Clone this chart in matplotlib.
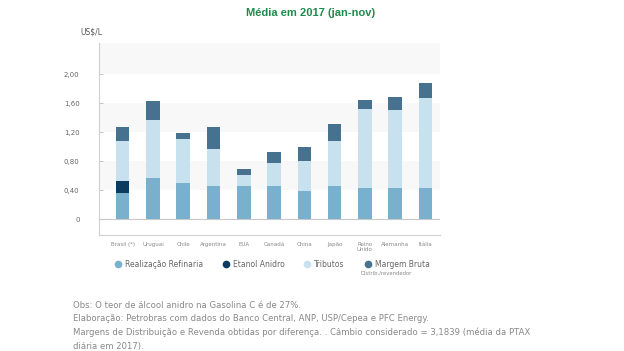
import matplotlib.pyplot as plt
from matplotlib.lines import Line2D
import numpy as np

# dados (US$/L, média jan-nov 2017)
paises = ['Brasil (*)', 'Uruguai', 'Chile', 'Argentina', 'EUA', 'Canadá',
          'China', 'Japão', 'Reino\nUnido', 'Alemanha', 'Itália']
realizacao = [0.36, 0.57, 0.50, 0.455, 0.455, 0.455, 0.385, 0.455, 0.43, 0.425, 0.43]
etanol = [0.17, 0, 0, 0, 0, 0, 0, 0, 0, 0, 0]
tributos = [0.55, 0.80, 0.61, 0.51, 0.155, 0.325, 0.415, 0.62, 1.095, 1.085, 1.24]
margem = [0.19, 0.26, 0.08, 0.315, 0.09, 0.15, 0.20, 0.235, 0.12, 0.18, 0.21]
yticks = [0, 0.4, 0.8, 1.2, 1.6, 2.0]
ytick_labels = ['0', '0,40', '0,80', '1,20', '1,60', '2,00']

cores = ['#78b0ce', '#0b3b5e', '#c8e1ee', '#46718f']
nomes = ['Realização Refinaria', 'Etanol Anidro', 'Tributos', 'Margem Bruta']

fig = plt.figure(figsize=(6.24, 3.51), dpi=100)
ax = fig.add_axes([0.1587, 0.3305, 0.5465, 0.547])

x = np.arange(len(paises))
base = np.zeros(len(paises))
for serie, cor in zip([realizacao, etanol, tributos, margem], cores):
    ax.bar(x, serie, bottom=base, width=0.45, color=cor, zorder=3)
    base = base + np.array(serie)

# faixas de fundo
for y0, y1 in [(0.4, 0.8), (1.2, 1.6), (2.0, 2.5)]:
    ax.axhspan(y0, y1, color='#f8f8f8', zorder=0, lw=0)
ax.axhline(0, color='#c8c8c8', lw=0.8, zorder=2)

ax.set_xlim(-0.78, 10.48)
ax.set_ylim(-0.2166, 2.432)
ax.set_yticks(yticks)
ax.set_yticklabels(ytick_labels, fontsize=5, color='#666666')
ax.tick_params(axis='y', direction='in', length=3, width=0.6, color='#bbbbbb', pad=14)
ax.set_xticks(x)
ax.set_xticklabels(paises, fontsize=4, color='#888888', linespacing=0.9, va='top')
ax.tick_params(axis='x', length=0, pad=5)
for s in ['top', 'right']:
    ax.spines[s].set_visible(False)
for s in ['left', 'bottom']:
    ax.spines[s].set_color('#d0d0d0')
    ax.spines[s].set_linewidth(0.8)

fig.text(0.497, 0.962, 'Média em 2017 (jan-nov)', ha='center', va='center',
         fontsize=8, fontweight='bold', color='#1f8a4c',
         family=['Liberation Sans Narrow', 'Liberation Sans', 'DejaVu Sans'])
fig.text(0.129, 0.909, 'US$/L', ha='left', va='center', fontsize=5.5, color='#555555')

handles = [Line2D([], [], marker='o', ls='', markersize=4.5, markerfacecolor=c,
                  markeredgecolor=c) for c in cores]
fig.legend(handles, nomes, loc='center left', bbox_to_anchor=(0.178, 0.246),
           ncol=4, frameon=False, fontsize=5.5, labelcolor='#666666',
           handletextpad=0.5, columnspacing=2.6, handlelength=0.8, borderpad=0)
fig.text(0.578, 0.223, 'Distrib./revendedor', ha='left', va='center',
         fontsize=3.8, color='#888888')

notas = ('Obs: O teor de álcool anidro na Gasolina C é de 27%.\n'
         'Elaboração: Petrobras com dados do Banco Central, ANP, USP/Cepea e PFC Energy.\n'
         'Margens de Distribuição e Revenda obtidas por diferença. . Câmbio considerado = 3,1839 (média da PTAX\n'
         'diária em 2017).')
fig.text(0.117, 0.142, notas, ha='left', va='top', fontsize=6.15, color='#888888',
         linespacing=1.6)

fig.savefig('out.png', dpi=100)
